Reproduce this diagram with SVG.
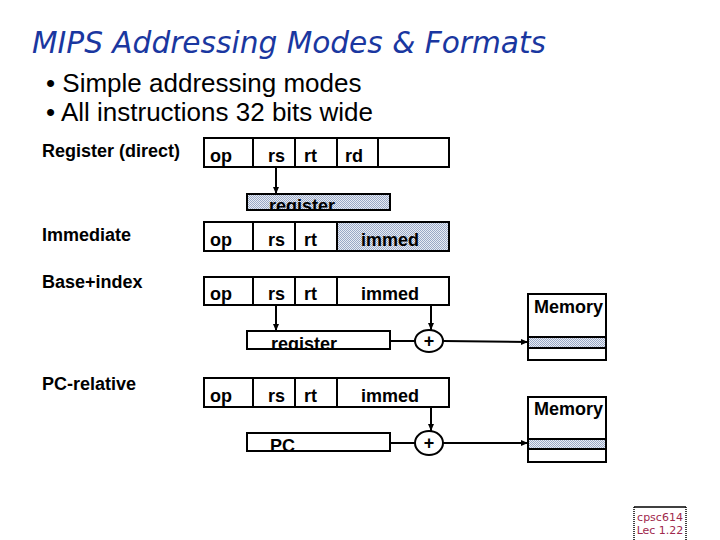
<svg xmlns="http://www.w3.org/2000/svg" width="720" height="540" viewBox="0 0 720 540">
<style>
.title{font-family:"DejaVu Sans","Liberation Sans",sans-serif;font-style:oblique;font-size:30px;fill:#1a37a0}
.bul{font-family:"Liberation Sans",Arial,sans-serif;font-size:26px;fill:#000}
.lbl{font-family:"Liberation Sans",Arial,sans-serif;font-weight:bold;font-size:18px;fill:#000}
.box{fill:#fff;stroke:#000;stroke-width:2}
.hbox{fill:url(#hatch);stroke:#000;stroke-width:2}
.ln{stroke:#000;stroke-width:2;fill:none}
.con{stroke:#000;stroke-width:2;fill:none;marker-end:url(#ah)}
.foot{font-family:"DejaVu Sans","Liberation Sans",sans-serif;font-size:11px;fill:#a0284c}
</style>
<defs>
<pattern id="hatch" width="2" height="2" patternUnits="userSpaceOnUse">
<rect width="2" height="2" fill="#e8ecf4"/>
<rect width="1" height="1" fill="#9aa9c6"/>
<rect x="1" y="1" width="1" height="1" fill="#9aa9c6"/>
</pattern>
<marker id="ah" markerWidth="8" markerHeight="8" refX="7" refY="4" orient="auto" markerUnits="userSpaceOnUse">
<path d="M0,1 L7,4 L0,7 Z" fill="#000"/>
</marker>
<clipPath id="c1"><rect x="247" y="194" width="143" height="16"/></clipPath>
<clipPath id="c2"><rect x="247" y="331" width="143" height="18"/></clipPath>
<clipPath id="c3"><rect x="247" y="433" width="143" height="18"/></clipPath>
</defs>
<rect width="720" height="540" fill="#fff"/>

<g id="title"><text class="title" x="32" y="53" textLength="514" lengthAdjust="spacingAndGlyphs">MIPS Addressing Modes &amp; Formats</text></g>
<g id="bullets">
<text class="bul" x="46" y="92">• Simple addressing modes</text>
<text class="bul" x="46" y="121">• All instructions 32 bits wide</text>
</g>

<g id="mode-labels">
<text class="lbl" x="42" y="157">Register (direct)</text>
<text class="lbl" x="42" y="241">Immediate</text>
<text class="lbl" x="42" y="288">Base+index</text>
<text class="lbl" x="42" y="390">PC-relative</text>
</g>

<g id="row-register">
<rect class="box" x="204" y="138" width="245" height="29"/>
<line class="ln" x1="253" y1="138" x2="253" y2="167"/>
<line class="ln" x1="295" y1="138" x2="295" y2="167"/>
<line class="ln" x1="337" y1="138" x2="337" y2="167"/>
<line class="ln" x1="378" y1="138" x2="378" y2="167"/>
<text class="lbl" x="210" y="162">op</text>
<text class="lbl" x="268" y="162">rs</text>
<text class="lbl" x="304" y="162">rt</text>
<text class="lbl" x="345" y="162">rd</text>
</g>
<g id="register-1">
<rect x="247" y="194" width="143" height="16" fill="url(#hatch)"/>
<text class="lbl" x="269" y="212" clip-path="url(#c1)">register</text>
<rect x="247" y="194" width="143" height="16" fill="none" stroke="#000" stroke-width="2"/>
</g>

<g id="row-immediate">
<rect class="box" x="204" y="222" width="245" height="29"/>
<rect class="hbox" x="337" y="222" width="112" height="29"/>
<line class="ln" x1="253" y1="222" x2="253" y2="251"/>
<line class="ln" x1="295" y1="222" x2="295" y2="251"/>
<text class="lbl" x="210" y="246">op</text>
<text class="lbl" x="268" y="246">rs</text>
<text class="lbl" x="304" y="246">rt</text>
<text class="lbl" x="361" y="246">immed</text>
</g>

<g id="row-base">
<rect class="box" x="204" y="277" width="245" height="28"/>
<line class="ln" x1="253" y1="277" x2="253" y2="305"/>
<line class="ln" x1="295" y1="277" x2="295" y2="305"/>
<line class="ln" x1="337" y1="277" x2="337" y2="305"/>
<text class="lbl" x="210" y="300">op</text>
<text class="lbl" x="268" y="300">rs</text>
<text class="lbl" x="304" y="300">rt</text>
<text class="lbl" x="361" y="300">immed</text>
</g>
<g id="register-2">
<rect class="box" x="247" y="331" width="143" height="18"/>
<text class="lbl" x="271" y="350" clip-path="url(#c2)">register</text>
<rect x="247" y="331" width="143" height="18" fill="none" stroke="#000" stroke-width="2"/>
</g>
<g id="plus-1">
<ellipse class="box" cx="429" cy="341" rx="14" ry="11"/>
<text class="lbl" x="429" y="347" text-anchor="middle">+</text>
</g>
<g id="memory-1">
<rect class="box" x="528" y="294" width="78" height="66"/>
<rect class="hbox" x="528" y="337" width="78" height="11"/>
<text class="lbl" x="534" y="313">Memory</text>
</g>

<g id="row-pc">
<rect class="box" x="204" y="378" width="245" height="29"/>
<line class="ln" x1="253" y1="378" x2="253" y2="407"/>
<line class="ln" x1="295" y1="378" x2="295" y2="407"/>
<line class="ln" x1="337" y1="378" x2="337" y2="407"/>
<text class="lbl" x="210" y="402">op</text>
<text class="lbl" x="268" y="402">rs</text>
<text class="lbl" x="304" y="402">rt</text>
<text class="lbl" x="361" y="402">immed</text>
</g>
<g id="pc">
<rect class="box" x="247" y="433" width="143" height="18"/>
<text class="lbl" x="270" y="452" clip-path="url(#c3)">PC</text>
<rect x="247" y="433" width="143" height="18" fill="none" stroke="#000" stroke-width="2"/>
</g>
<g id="plus-2">
<ellipse class="box" cx="429" cy="443" rx="14" ry="12"/>
<text class="lbl" x="429" y="449" text-anchor="middle">+</text>
</g>
<g id="memory-2">
<rect class="box" x="528" y="397" width="78" height="65"/>
<rect class="hbox" x="528" y="439" width="78" height="10"/>
<text class="lbl" x="534" y="415">Memory</text>
</g>

<g id="connectors">
<line class="con" x1="276" y1="167" x2="276" y2="194"/>
<line class="con" x1="276" y1="305" x2="276" y2="331"/>
<line class="con" x1="431" y1="305" x2="431" y2="330"/>
<line class="ln" x1="390" y1="341" x2="415" y2="341"/>
<line class="con" x1="443" y1="341" x2="528" y2="342"/>
<line class="con" x1="431" y1="407" x2="431" y2="431"/>
<line class="ln" x1="390" y1="443" x2="415" y2="443"/>
<line class="con" x1="443" y1="443" x2="528" y2="443"/>
</g>

<g id="footer">
<line x1="634" y1="507" x2="686" y2="507" stroke="#000" stroke-width="1.5"/>
<line x1="634" y1="507" x2="634" y2="540" stroke="#000" stroke-width="1.5" stroke-dasharray="1,1"/>
<line x1="686" y1="507" x2="686" y2="540" stroke="#000" stroke-width="1.5" stroke-dasharray="1,1"/>
<text class="foot" x="660" y="521" text-anchor="middle">cpsc614</text>
<text class="foot" x="660" y="534" text-anchor="middle">Lec 1.22</text>
</g>
</svg>
